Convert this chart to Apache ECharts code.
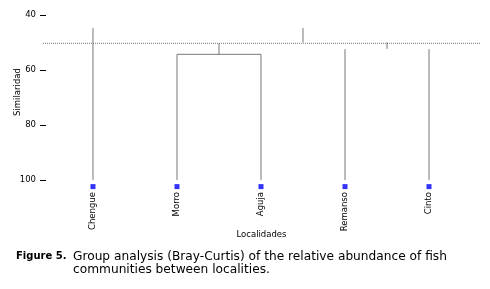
<!DOCTYPE html>
<html>
<head>
<meta charset="utf-8">
<script src="https://cdn.jsdelivr.net/npm/echarts@6/dist/echarts.min.js"></script>
<style>
  html, body { margin: 0; padding: 0; background: #fff; }
  #chart { width: 490px; height: 289px; }
</style>
</head>
<body>
<div id="chart"></div>
<script>
// leaves of the dendrogram, left to right
var leaves = ['Chengue', 'Morro', 'Aguja', 'Remanso', 'Cinto'];
var leafPos = [1, 2, 3, 4, 5];
// similarity where each leaf line starts (top of line)
var leafTop = [44.7, 54.3, 54.3, 52.4, 52.4];
var leafBottom = 100;
// joins: [x from, x to, level]
var joinBars = [[2, 3, 54.3]];
// short stubs: [x, from level, to level]
var stubs = [[2.5, 54.3, 50.3], [3.5, 44.7, 50.0], [4.5, 50.0, 52.3]];
// cut line level
var cutLevel = 50.3;
var markerLevel = 102.4;
var yTicks = [40, 60, 80, 100];

var xMin = 0.405, xMax = 5.607;

var segs = [];
leafPos.forEach(function (x, i) {
  segs.push([x, leafTop[i]], [x, leafBottom], '-');
});
joinBars.forEach(function (b) {
  segs.push([b[0], b[2]], [b[1], b[2]], '-');
});
stubs.forEach(function (s) {
  segs.push([s[0], s[1]], [s[0], s[2]], '-');
});

var chart = echarts.init(document.getElementById('chart'));
var font = 'DejaVu Sans, Verdana, sans-serif';

chart.setOption({
  animation: false,
  title: [
    {
      text: 'Figure 5.',
      left: 16, top: 251, padding: 0,
      textStyle: { fontFamily: font, fontSize: 10, fontWeight: 'bold', color: '#000' }
    },
    {
      text: 'Group analysis (Bray-Curtis) of the relative abundance of fish\ncommunities between localities.',
      left: 73, top: 250, padding: 0,
      textStyle: { fontFamily: font, fontSize: 12.2, fontWeight: 'normal', color: '#000', lineHeight: 13 }
    }
  ],
  grid: { left: 43, right: 10, top: 15, bottom: 109, outerBoundsMode: 'none' },
  xAxis: {
    type: 'value',
    min: xMin, max: xMax,
    name: 'Localidades',
    nameLocation: 'middle',
    nameGap: 50,
    nameMoveOverlap: false,
    nameTextStyle: { fontFamily: font, fontSize: 8.5, color: '#000' },
    axisLine: { show: false },
    axisTick: { show: false },
    splitLine: { show: false },
    axisLabel: {
      customValues: leafPos,
      rotate: 90,
      margin: 12,
      fontFamily: font, fontSize: 8.5, color: '#000',
      formatter: function (v) { return leaves[Math.round(v) - 1] || ''; }
    }
  },
  yAxis: {
    type: 'value',
    inverse: true,
    min: 40, max: 100, interval: 20,
    offset: -3,
    name: 'Similaridad',
    nameLocation: 'middle',
    nameGap: 24,
    nameMoveOverlap: false,
    nameTextStyle: { fontFamily: font, fontSize: 8.5, color: '#000', padding: [0, 0, 0, 11] },
    axisLine: { show: false },
    axisTick: { show: true, length: 6, lineStyle: { color: '#000' }, customValues: yTicks },
    splitLine: { show: false },
    axisLabel: { customValues: yTicks, margin: 10, fontFamily: font, fontSize: 8.5, color: '#000' }
  },
  series: [
    {
      type: 'line',
      data: [[xMin, cutLevel], [xMax, cutLevel]],
      symbol: 'none',
      lineStyle: { color: '#777', width: 1, type: [1, 1] }
    },
    {
      type: 'line',
      data: segs,
      symbol: 'none',
      connectNulls: false,
      lineStyle: { color: '#777', width: 1 }
    },
    {
      type: 'scatter',
      clip: false,
      data: leafPos.map(function (x) { return [x, markerLevel]; }),
      symbol: 'rect',
      symbolSize: 5,
      itemStyle: { color: '#0000ff' }
    }
  ]
});
</script>
</body>
</html>
